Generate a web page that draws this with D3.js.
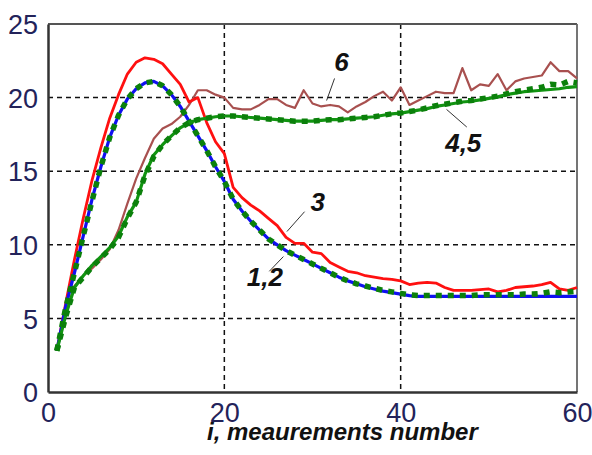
<!DOCTYPE html>
<html>
<head>
<meta charset="utf-8">
<script src="https://cdn.jsdelivr.net/npm/d3@7"></script>
<style>
  body { margin: 0; background: #fff; }
  svg { display: block; font-family: "Liberation Sans", Arial, sans-serif; }
</style>
</head>
<body>
<div id="chart"></div>
<script>
// measurement index i
var measurements = [1, 2, 3, 4, 5, 6, 7, 8, 9, 10, 11, 12, 13, 14, 15, 16, 17, 18, 19, 20,
    21, 22, 23, 24, 25, 26, 27, 28, 29, 30, 31, 32, 33, 34, 35, 36, 37, 38, 39, 40,
    41, 42, 43, 44, 45, 46, 47, 48, 49, 50, 51, 52, 53, 54, 55, 56, 57, 58, 59, 60];

// curve 1 (blue, solid)
var series1 = [2.8, 5.8, 8.1, 10.6, 13.1, 15.3, 17.3, 18.8, 19.9, 20.6, 21.0, 21.1, 20.8, 20.2, 19.4, 18.4, 17.4, 16.4, 15.3, 14.3,
    13.1, 12.3, 11.6, 11.0, 10.4, 10.0, 9.6, 9.3, 9.0, 8.7, 8.4, 8.1, 7.8, 7.55, 7.35, 7.15, 7.0, 6.85, 6.75, 6.65,
    6.55, 6.5, 6.5, 6.5, 6.5, 6.5, 6.5, 6.5, 6.5, 6.5, 6.5, 6.5, 6.5, 6.5, 6.5, 6.5, 6.5, 6.5, 6.5, 6.5];
// curve 2 (green, dotted, lies on curve 1)
var series2 = [2.8, 5.7, 8.1, 10.6, 13.0, 15.3, 17.3, 18.8, 19.9, 20.6, 21.0, 21.1, 20.8, 20.2, 19.4, 18.4, 17.4, 16.4, 15.3, 14.3,
    13.1, 12.3, 11.6, 11.0, 10.4, 10.0, 9.6, 9.3, 9.0, 8.7, 8.4, 8.1, 7.8, 7.55, 7.35, 7.2, 7.05, 6.9, 6.8, 6.7,
    6.6, 6.55, 6.55, 6.55, 6.55, 6.55, 6.55, 6.55, 6.6, 6.6, 6.6, 6.6, 6.6, 6.65, 6.65, 6.7, 6.8, 6.75, 6.8, 6.85];
// curve 3 (red)
var series3 = [2.8, 6.0, 9.0, 11.8, 14.4, 16.6, 18.6, 20.2, 21.6, 22.4, 22.7, 22.6, 22.3, 21.6, 20.9, 19.7, 20.0, 18.3, 17.0, 16.2,
    13.9, 13.2, 12.7, 12.3, 11.8, 11.3, 10.5, 10.1, 10.1, 9.5, 9.4, 8.8, 8.5, 8.2, 8.1, 7.9, 7.8, 7.7, 7.65, 7.55,
    7.3, 7.4, 7.45, 7.4, 7.1, 6.9, 6.9, 6.9, 6.95, 7.0, 6.8, 6.9, 7.1, 7.15, 7.2, 7.3, 7.45, 7.0, 6.9, 7.1];
// curve 4 (green, solid)
var series4 = [2.8, 5.2, 7.1, 7.9, 8.6, 9.2, 9.8, 10.6, 11.9, 12.9, 14.8, 16.1, 16.8, 17.4, 17.95, 18.3, 18.5, 18.6, 18.7, 18.75,
    18.75, 18.7, 18.65, 18.6, 18.55, 18.5, 18.45, 18.4, 18.4, 18.4, 18.45, 18.5, 18.5, 18.55, 18.6, 18.65, 18.7, 18.8, 18.9, 18.95,
    19.05, 19.15, 19.25, 19.4, 19.5, 19.6, 19.7, 19.75, 19.85, 19.95, 20.05, 20.2, 20.3, 20.4, 20.45, 20.5, 20.55, 20.6, 20.7, 20.75];
// curve 5 (green, dotted, lies on curve 4)
var series5 = [2.8, 5.1, 7.1, 7.8, 8.5, 9.1, 9.7, 10.5, 11.8, 12.9, 14.7, 16.0, 16.8, 17.4, 17.95, 18.3, 18.5, 18.6, 18.7, 18.75,
    18.75, 18.7, 18.65, 18.6, 18.55, 18.5, 18.45, 18.4, 18.4, 18.4, 18.45, 18.5, 18.5, 18.55, 18.6, 18.65, 18.7, 18.8, 18.9, 18.95,
    19.05, 19.15, 19.3, 19.45, 19.55, 19.65, 19.75, 19.8, 19.9, 20.0, 20.1, 20.25, 20.4, 20.5, 20.6, 20.7, 20.9, 20.85, 21.1, 21.0];
// curve 6 (brown)
var series6 = [2.8, 5.3, 7.2, 7.9, 8.4, 9.0, 9.7, 11.0, 12.8, 14.5, 15.9, 17.2, 17.9, 18.2, 18.7, 19.5, 20.5, 20.5, 20.2, 20.0,
    19.3, 19.2, 19.2, 19.5, 19.9, 19.9, 19.5, 19.3, 20.5, 19.6, 19.4, 19.5, 19.4, 19.0, 19.4, 19.7, 20.1, 20.4, 19.8, 20.7,
    19.5, 19.8, 20.1, 20.4, 20.3, 20.3, 22.0, 20.5, 20.9, 20.8, 21.6, 20.5, 21.1, 21.3, 21.4, 21.5, 22.4, 21.8, 21.8, 21.3];

var xTicks = [0, 20, 40, 60];
var yTicks = [0, 5, 10, 15, 20, 25];
var xGrid = [20, 40];
var yGrid = [5, 10, 15, 20];

// curve labels: text, anchor point [i, value], leader line [[i,v],[i,v]]
var labels = [
    { text: "6", at: [33.3, 22.45], line: [[32.5, 21.3], [31.6, 19.8]] },
    { text: "4,5", at: [47.1, 16.9], line: [[47.5, 18.0], [45.2, 19.2]] },
    { text: "3", at: [30.6, 12.9], line: [[29.1, 12.25], [27.1, 10.9]] },
    { text: "1,2", at: [24.6, 7.85], line: [[26.7, 9.2], [25.1, 8.2]] }
];

var width = 592, height = 455;
var margin = { top: 24, right: 15, bottom: 63, left: 48 };
var w = width - margin.left - margin.right, h = height - margin.top - margin.bottom;

var svg = d3.select("#chart")
    .append("svg")
    .attr("width", width)
    .attr("height", height)
    .append("g")
    .attr("transform", "translate(" + margin.left + "," + margin.top + ")");

var x = d3.scaleLinear().domain([0, 60]).range([0, w]);
var y = d3.scaleLinear().domain([0, 25]).range([h, 0]);

// dashed grid
svg.selectAll(".gx").data(xGrid).enter().append("line")
    .attr("x1", d => x(d)).attr("x2", d => x(d))
    .attr("y1", 0).attr("y2", h)
    .attr("stroke", "#111").attr("stroke-width", 1.5).attr("stroke-dasharray", "5,4");
svg.selectAll(".gy").data(yGrid).enter().append("line")
    .attr("x1", 0).attr("x2", w)
    .attr("y1", d => y(d)).attr("y2", d => y(d))
    .attr("stroke", "#111").attr("stroke-width", 1.5).attr("stroke-dasharray", "5,4");

// frame: top/right thinner and grey, left/bottom darker
svg.append("line").attr("x1", 0).attr("x2", w).attr("y1", 0).attr("y2", 0).attr("stroke", "#555").attr("stroke-width", 2);
svg.append("line").attr("x1", w).attr("x2", w).attr("y1", 0).attr("y2", h).attr("stroke", "#666").attr("stroke-width", 1.8);

var xAxis = svg.append("g")
    .attr("transform", "translate(0," + h + ")")
    .call(d3.axisBottom(x).tickValues(xTicks).tickSize(0).tickPadding(9).tickFormat(d3.format("d")));
var yAxis = svg.append("g")
    .call(d3.axisLeft(y).tickValues(yTicks).tickSize(0).tickPadding(10).tickFormat(d3.format("d")));
[xAxis, yAxis].forEach(function (a) {
    a.select(".domain").attr("stroke", "#333").attr("stroke-width", 2.5);
    a.selectAll("text")
        .attr("fill", "#23235a")
        .style("font-size", "27px")
        .style("font-family", "'Liberation Sans', Arial, sans-serif");
});
yAxis.selectAll("text").attr("dy", "0.36em");
xAxis.selectAll("text").attr("dy", "0.78em");

var line = d3.line()
    .x(function (d, i) { return x(measurements[i]); })
    .y(function (d) { return y(d); });

function drawCurve(values, color, sw, dash) {
    var p = svg.append("path")
        .datum(values)
        .attr("fill", "none")
        .attr("stroke", color)
        .attr("stroke-width", sw)
        .attr("stroke-linejoin", "round")
        .attr("d", line);
    if (dash) p.attr("stroke-dasharray", dash);
    return p;
}

drawCurve(series6, "#a8504f", 2.2);
drawCurve(series3, "#ff1010", 2.8);
drawCurve(series1, "#1010f0", 3.2);
drawCurve(series2, "#0b800b", 5.5, "6,6");
drawCurve(series4, "#119411", 3.2);
drawCurve(series5, "#0b800b", 5.5, "6,6");

// leader lines and curve numbers
svg.selectAll(".lead").data(labels).enter().append("line")
    .attr("x1", d => x(d.line[0][0])).attr("y1", d => y(d.line[0][1]))
    .attr("x2", d => x(d.line[1][0])).attr("y2", d => y(d.line[1][1]))
    .attr("stroke", "#333").attr("stroke-width", 1);
svg.selectAll(".lab").data(labels).enter().append("text")
    .attr("x", d => x(d.at[0]))
    .attr("y", d => y(d.at[1]))
    .attr("text-anchor", "middle")
    .attr("dy", "0.35em")
    .style("font-size", "26px")
    .style("font-weight", "bold")
    .style("font-style", "italic")
    .attr("fill", "#111")
    .text(d => d.text);

// x axis title
svg.append("text")
    .attr("x", 159)
    .attr("y", 416)
    .style("font-size", "24px")
    .style("font-weight", "bold")
    .style("font-style", "italic")
    .attr("fill", "#111")
    .text("i, meaurements number");
</script>
</body>
</html>
